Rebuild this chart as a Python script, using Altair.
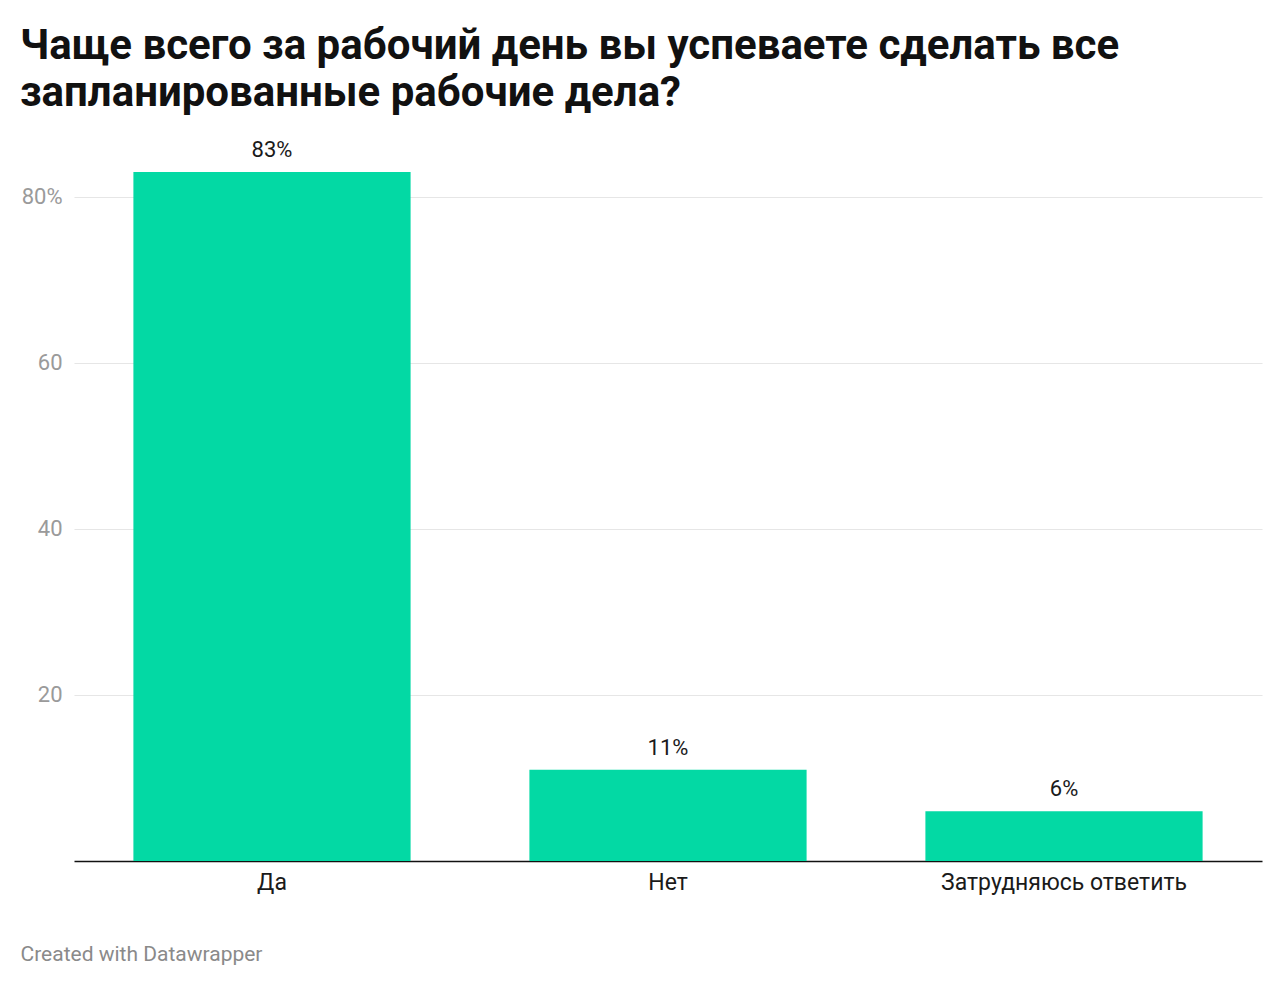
import altair as alt
import pandas as pd

categories = ["Да", "Нет", "Затрудняюсь ответить"]
values = [83, 11, 6]
labels = ["83%", "11%", "6%"]
y_ticks = [20, 40, 60, 80]

title_lines = ["Чаще всего за рабочий день вы успеваете сделать все",
               "запланированные рабочие дела?"]
footer = "Created with Datawrapper"

df = pd.DataFrame({"cat": categories, "val": values, "lbl": labels})

FONT = "Roboto"
GREEN = "#03d9a4"

base = alt.Chart(df).encode(
    x=alt.X("cat:N", sort=categories,
            scale=alt.Scale(paddingInner=0.3, paddingOuter=0.15),
            axis=alt.Axis(title=footer, labelAngle=0, labelFontSize=23,
                          labelColor="#1a1a1a", labelFont=FONT, labelPadding=10,
                          labelLimit=600,
                          ticks=False, domainColor="#111111", domainWidth=1.5,
                          titleFont=FONT, titleFontSize=21, titleFontWeight="normal",
                          titleColor="#8a8a8a", titleAnchor="start", titleAlign="left",
                          titleBaseline="middle", titleX=-54, titleY=93)),
)

bars = base.mark_bar(color=GREEN).encode(
    y=alt.Y("val:Q", scale=alt.Scale(domain=[0, 83], nice=False),
            axis=alt.Axis(title=None, values=y_ticks, domain=False, ticks=False,
                          labelExpr="datum.value == 80 ? '80%' : datum.label",
                          labelFontSize=22, labelColor="#9a9a9a", labelFont=FONT,
                          labelPadding=12, gridColor="#e6e6e6", gridWidth=1.2)),
)

text = base.mark_text(font=FONT, fontSize=22, color="#1a1a1a",
                      baseline="alphabetic", dy=-15).encode(
    y=alt.Y("val:Q"),
    text="lbl:N",
)

chart = alt.layer(bars, text).properties(
    width=1188,
    height=689,
    title=alt.TitleParams(title_lines, anchor="start", frame="bounds",
                          font=FONT, fontSize=42, fontWeight="bold", color="#111111",
                          lineHeight=47, offset=24),
    padding={"left": 12, "top": 17, "right": 8, "bottom": 8},
    background="white",
).configure_view(stroke=None)

chart.save("out.html", embed_options={"renderer": "svg", "actions": False})
